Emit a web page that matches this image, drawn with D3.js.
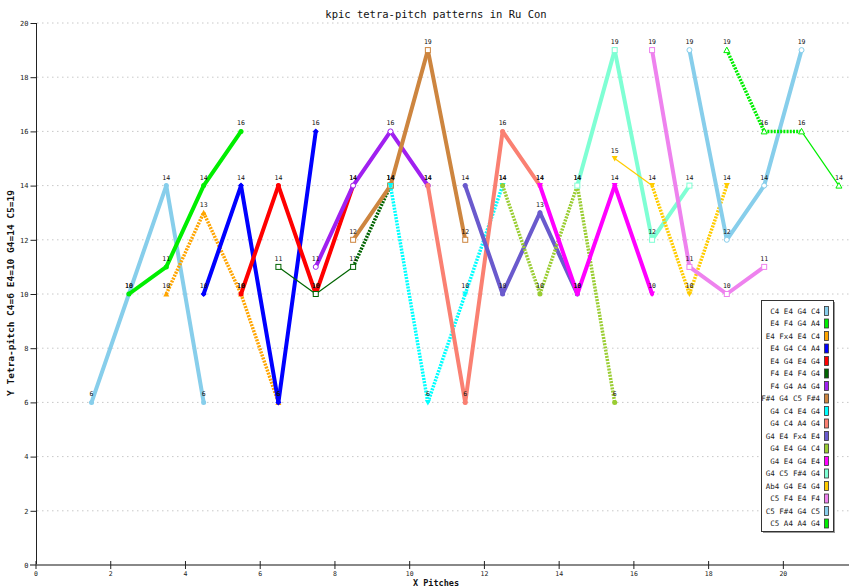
<!DOCTYPE html>
<html><head><meta charset="utf-8">
<script src="https://cdn.jsdelivr.net/npm/d3@7"></script>
<style>
html,body{margin:0;padding:0;background:#fff;}
svg{display:block;}
text{font-family:"DejaVu Sans Mono",monospace;}
</style></head>
<body>
<svg id="chart" width="849" height="588"></svg>
<script>
// ---- data ----
const titleText = "kpic tetra-pitch patterns in Ru Con";
const yTitle = "Y Tetra-pitch C4=6 E4=10 G4=14 C5=19";
const xTitle = "X Pitches";
const xTicks = [0,2,4,6,8,10,12,14,16,18,20];
const yTicks = [0,2,4,6,8,10,12,14,16,18,20];
const seriesNames = ["C4 E4 G4 C4","E4 F4 G4 A4","E4 Fx4 E4 C4","E4 G4 C4 A4","E4 G4 E4 G4",
  "F4 E4 F4 G4","F4 G4 A4 G4","F#4 G4 C5 F#4","G4 C4 E4 G4","G4 C4 A4 G4","G4 E4 Fx4 E4",
  "G4 E4 G4 C4","G4 E4 G4 E4","G4 C5 F#4 G4","Ab4 G4 E4 G4","C5 F4 E4 F4","C5 F#4 G4 C5","C5 A4 A4 G4"];
const seriesX = [
  [1.5,2.5,3.5,4.5],[2.5,3.5,4.5,5.5],[3.5,4.5,5.5,6.5],[4.5,5.5,6.5,7.5],[5.5,6.5,7.5,8.5],
  [6.5,7.5,8.5,9.5],[7.5,8.5,9.5,10.5],[8.5,9.5,10.5,11.5],[9.5,10.5,11.5,12.5],[10.5,11.5,12.5,13.5],
  [11.5,12.5,13.5,14.5],[12.5,13.5,14.5,15.5],[13.5,14.5,15.5,16.5],[14.5,15.5,16.5,17.5],
  [15.5,16.5,17.5,18.5],[16.5,17.5,18.5,19.5],[17.5,18.5,19.5,20.5],[18.5,19.5,20.5,21.5]];
const seriesY = [
  [6,10,14,6],[10,11,14,16],[10,13,10,6],[10,14,6,16],[10,14,10,14],
  [11,10,11,14],[11,14,16,14],[12,14,19,12],[14,6,10,14],[14,6,16,14],
  [14,10,13,10],[14,10,14,6],[14,10,14,10],[14,19,12,14],
  [15,14,10,14],[19,11,10,11],[19,12,14,19],[19,16,16,14]];
// ---- styles ----
const colors = ["#87CEEB","#00EE00","#FFA500","#0000FF","#FF0000","#006400","#A020F0","#CD853F",
  "#00FFFF","#FA8072","#6A5ACD","#9ACD32","#FF00FF","#7FFFD4","#FFCC00","#EE82EE","#87CEEB","#00EE00"];
const segStyles = ["TTT","TTT","HHH","TTT","TTT","ttH","TTT","TTT","HHH","TTT","TTT","HHH","TTT","TTT","tHH","TTT","TTT","HHt"];
const markers = ["circle","circle","triup","diamond","circle","osquare","ocircle","osquare","tridown","circle",
  "circle","circle","tridown","osquare","tridown","osquare","ocircle","otriup"];

const svg = d3.select("#chart");
const x = d3.scaleLinear().domain([0,21.77]).range([35.5,849]);
const y = d3.scaleLinear().domain([0,20]).range([565,23]);

// gridlines
svg.append("g").selectAll("line").data(yTicks.filter(d=>d>0)).join("line")
  .attr("x1",37).attr("x2",849).attr("y1",d=>y(d)).attr("y2",d=>y(d))
  .attr("stroke","#c8c8c8").attr("stroke-width",1).attr("stroke-dasharray","1.5,3.5");

// title
svg.append("text").attr("x",436).attr("y",18).attr("text-anchor","middle")
  .attr("font-size","10.5px").attr("fill","#111").text(titleText);

// y axis
const yAxis = d3.axisLeft(y).tickValues(yTicks).tickSize(6).tickFormat(d3.format("d"));
const yg = svg.append("g").attr("transform","translate(36.5,0)").call(yAxis);
yg.select(".domain").attr("stroke","#222").attr("d","M0,23V565");
yg.selectAll(".tick line").attr("stroke","#222");
yg.selectAll(".tick text").attr("font-size","7px").attr("font-family","DejaVu Sans Mono").attr("x",-8).attr("fill","#222");

// x axis
const xAxis = d3.axisBottom(x).tickValues(xTicks).tickSize(5).tickFormat(d3.format("d"));
const xg = svg.append("g").attr("transform","translate(0,565)").call(xAxis);
xg.select(".domain").attr("stroke","#888").attr("stroke-width",2).attr("d","M30,0H849");
xg.selectAll(".tick line").attr("stroke","#222").attr("y1",-4).attr("y2",4);
xg.selectAll(".tick text").attr("font-size","6.5px").attr("font-family","DejaVu Sans Mono").attr("y",6).attr("fill","#222");

// axis titles
svg.append("text").attr("transform","translate(14,293) rotate(-90)").attr("text-anchor","middle")
  .attr("font-size","9.5px").attr("font-weight","bold").attr("fill","#111").text(yTitle);
svg.append("text").attr("x",436).attr("y",586).attr("text-anchor","middle")
  .attr("font-size","8.5px").attr("font-weight","bold").attr("fill","#111").text(xTitle);

// series
const gS = svg.append("g");
seriesNames.forEach((name,i)=>{
  const xs = seriesX[i], ys = seriesY[i], c = colors[i];
  const g = gS.append("g");
  for(let k=0;k<xs.length-1;k++){
    const st = segStyles[i][k];
    const ln = g.append("line").attr("x1",x(xs[k])).attr("y1",y(ys[k])).attr("x2",x(xs[k+1])).attr("y2",y(ys[k+1]))
      .attr("stroke",c).attr("stroke-linecap","butt");
    if(st==="T") ln.attr("stroke-width",4).attr("stroke-linecap","round");
    else if(st==="t") ln.attr("stroke-width",1.2);
    else ln.attr("stroke-width",3.5).attr("stroke-dasharray","2,1.2");
  }
  const m = markers[i];
  xs.forEach((xv,k)=>{
    const px = x(xv), py = y(ys[k]);
    if(m==="circle") g.append("circle").attr("cx",px).attr("cy",py).attr("r",2.5).attr("fill",c);
    else if(m==="ocircle") g.append("circle").attr("cx",px).attr("cy",py).attr("r",2.5).attr("fill","#fff").attr("stroke",c);
    else if(m==="osquare") g.append("rect").attr("x",px-2.5).attr("y",py-2.5).attr("width",5).attr("height",5).attr("fill","#fff").attr("stroke",c);
    else if(m==="diamond") g.append("path").attr("d",`M${px},${py-3}L${px+3},${py}L${px},${py+3}L${px-3},${py}Z`).attr("fill",c);
    else if(m==="triup") g.append("path").attr("d",`M${px},${py-3}L${px+3},${py+2.5}L${px-3},${py+2.5}Z`).attr("fill",c);
    else if(m==="otriup") g.append("path").attr("d",`M${px},${py-3}L${px+3},${py+2.5}L${px-3},${py+2.5}Z`).attr("fill","#fff").attr("stroke",c);
    else if(m==="tridown") g.append("path").attr("d",`M${px},${py+3}L${px+3},${py-2.5}L${px-3},${py-2.5}Z`).attr("fill",c);
  });
});
// value labels
const gL = svg.append("g");
seriesNames.forEach((name,i)=>{
  seriesX[i].forEach((xv,k)=>{
    gL.append("text").attr("x",x(xv)).attr("y",y(seriesY[i][k])-6).attr("text-anchor","middle")
      .attr("font-size","6.5px").attr("fill","#111").text(seriesY[i][k]);
  });
});

// legend
const lg = svg.append("g");
lg.append("rect").attr("x",763).attr("y",302).attr("width",72).attr("height",231).attr("fill","#999");
lg.append("rect").attr("x",761.5).attr("y",300.5).attr("width",72).attr("height",231).attr("fill","#fff").attr("stroke","#333");
seriesNames.forEach((name,i)=>{
  const ly = 311 + i*12.5;
  lg.append("text").attr("x",820).attr("y",ly+2.5).attr("text-anchor","end").attr("font-size","7.5px").attr("fill","#222").text(name);
  lg.append("rect").attr("x",824.5).attr("y",ly-4.5).attr("width",4).attr("height",9).attr("fill",colors[i]).attr("stroke","#333").attr("stroke-width",0.8);
});
</script>
</body></html>
